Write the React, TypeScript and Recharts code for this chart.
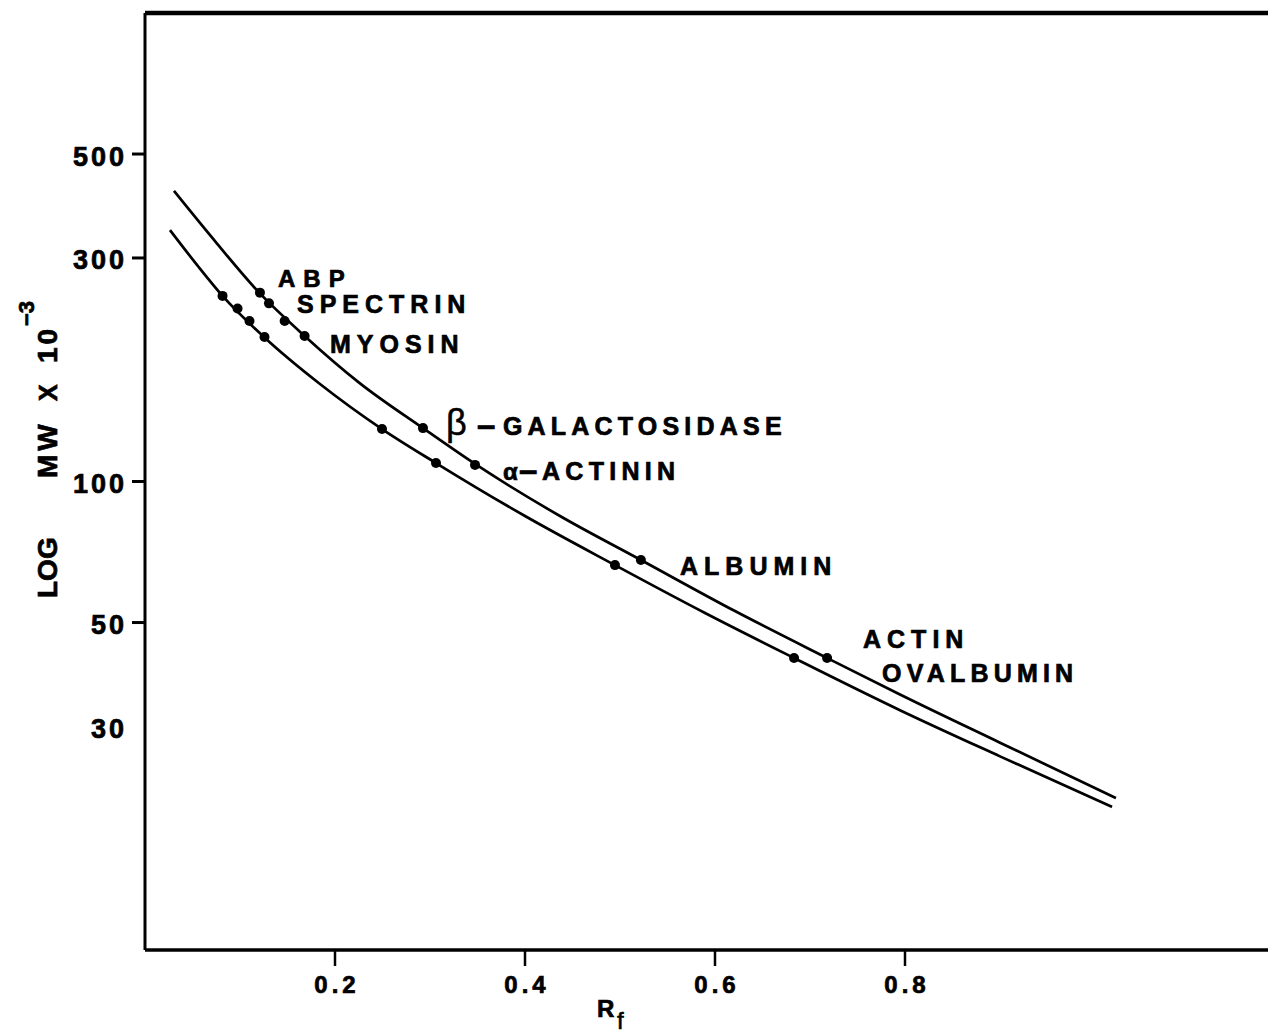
import React from 'react';
import {
  ComposedChart,
  Line,
  Scatter,
  XAxis,
  YAxis,
  ReferenceLine,
  ReferenceDot,
  Label,
} from 'recharts';

const FONT = '"Liberation Sans", Arial, Helvetica, sans-serif';

// ---- axis ticks ----
const rfTicks = [0.2, 0.4, 0.6, 0.8];
const mwTicks = [30, 50, 100, 300, 500];
const mwTicksWithoutMark = [30];

// ---- upper calibration curve ----
const upperCurveRf = [0.0305, 0.0758, 0.121, 0.168, 0.2263, 0.2926, 0.3474, 0.4368, 0.522, 0.621, 0.718, 0.7947, 0.9, 1.0221];
const upperCurveMw = [417, 322, 252, 204.5, 162, 130, 109, 84.4, 68, 52.9, 42, 35.1, 27.7, 21.1];

// ---- lower calibration curve ----
const lowerCurveRf = [0.0263, 0.0547, 0.0816, 0.1258, 0.1842, 0.2495, 0.3063, 0.4, 0.4947, 0.5895, 0.6832, 0.7947, 0.9, 1.0179];
const lowerCurveMw = [344, 290, 249, 203, 161.5, 129.4, 109.5, 84.4, 66.3, 52.4, 42, 32.5, 25.9, 20.2];

// ---- marker points ----
const upperDotsRf = [0.121, 0.1305, 0.147, 0.168, 0.2926, 0.3474, 0.522, 0.718];
const upperDotsMw = [253, 240, 220, 204.5, 130, 108.5, 68, 42];
const lowerDotsRf = [0.0816, 0.0974, 0.11, 0.1258, 0.2495, 0.3063, 0.4947, 0.6832];
const lowerDotsMw = [249, 234, 220, 203.5, 129.4, 109.5, 66.3, 42];

// ---- protein names and where their labels sit (data coordinates) ----
const proteinNames = ['ABP', 'SPECTRIN', 'MYOSIN', 'β-GALACTOSIDASE', 'α-ACTININ', 'ALBUMIN', 'ACTIN', 'OVALBUMIN'];
const labelRf = [0.14, 0.16, 0.1947, 0.3168, 0.3768, 0.5632, 0.7558, 0.7758];
const labelMw = [260.1, 228.9, 188.0, 125.7, 100.7, 63.2, 44.1, 37.3];

const zip = (xs: number[], ys: number[]) => xs.map((rf, i) => ({ rf, mw: ys[i] }));
const upperCurve = zip(upperCurveRf, upperCurveMw);
const lowerCurve = zip(lowerCurveRf, lowerCurveMw);
const upperDots = zip(upperDotsRf, upperDotsMw);
const lowerDots = zip(lowerDotsRf, lowerDotsMw);
const labels = proteinNames.map((name, i) => ({ name, rf: labelRf[i], mw: labelMw[i] }));

const textBase = {
  fontFamily: FONT,
  fontWeight: 'bold' as const,
  fill: '#000',
  stroke: '#000',
  strokeWidth: 0.7,
};

function YTick(props: any) {
  const { x, y, payload } = props;
  const v = payload.value;
  return (
    <g>
      {!mwTicksWithoutMark.includes(v) && (
        <line x1={x - 13} x2={x} y1={y} y2={y} stroke="#000" strokeWidth={3} />
      )}
      <text x={x - 18} y={y} dy={11.5} textAnchor="end" fontSize={27} letterSpacing={3} {...textBase}>
        {String(v)}
      </text>
    </g>
  );
}

function XTick(props: any) {
  const { x, y, payload } = props;
  return (
    <text x={x + 2} y={y} dy={27} textAnchor="middle" fontSize={24} letterSpacing={4} {...textBase}>
      {String(payload.value)}
    </text>
  );
}

function YLabel() {
  const bx = 57;
  const rot = (x: number, y: number) => `rotate(-90 ${x} ${y})`;
  return (
    <g>
      <text x={bx} y={598} transform={rot(bx, 598)} fontSize={28} {...textBase}>LOG</text>
      <text x={bx} y={478} transform={rot(bx, 478)} fontSize={28} letterSpacing={4} {...textBase}>MW</text>
      <text x={bx} y={401} transform={rot(bx, 401)} fontSize={25} {...textBase}>X</text>
      <text x={bx} y={363} transform={rot(bx, 363)} fontSize={28} letterSpacing={3} {...textBase}>10</text>
      <text x={34} y={326} transform={rot(34, 326)} fontSize={22} {...textBase}>−3</text>
    </g>
  );
}

function XLabel() {
  return (
    <g>
      <text x={597} y={1017} fontSize={24} {...textBase}>R</text>
      <text x={617} y={1029} fontSize={24} fontFamily={FONT} fontWeight="normal" fill="#000" stroke="#000" strokeWidth={0.6}>f</text>
    </g>
  );
}

function ProteinLabel({ cx, cy, name }: { cx: number; cy: number; name: string }) {
  if (name.startsWith('β')) {
    return (
      <g>
        <text x={cx} y={cy} fontSize={36} fontFamily={FONT} fontWeight="normal" fill="#000" stroke="#000" strokeWidth={0.5}>β</text>
        <text x={cx + 31} y={cy + 1} fontSize={33} {...textBase}>–</text>
        <text x={cx + 57} y={cy} fontSize={25} letterSpacing={5.2} {...textBase}>GALACTOSIDASE</text>
      </g>
    );
  }
  if (name.startsWith('α')) {
    return (
      <g>
        <text x={cx} y={cy} fontSize={24} {...textBase}>α</text>
        <text x={cx + 16} y={cy + 1} fontSize={33} {...textBase}>–</text>
        <text x={cx + 39} y={cy} fontSize={25} letterSpacing={5.3} {...textBase}>ACTININ</text>
      </g>
    );
  }
  const spacing = name === 'ABP' ? 8 : name === 'OVALBUMIN' ? 5.2 : 6;
  return (
    <text x={cx} y={cy} fontSize={name === 'ABP' ? 24 : 25} letterSpacing={spacing} {...textBase}>
      {name}
    </text>
  );
}

const dotShape = (p: any) => <circle cx={p.cx} cy={p.cy} r={5} fill="#000" />;

export default function App() {
  return (
    <div style={{ position: 'fixed', left: 0, top: 0, width: 1268, height: 1036, overflow: 'hidden', background: '#fff' }}>
      <ComposedChart
        width={1300}
        height={1036}
        margin={{ top: 13, right: 15, bottom: 26, left: 0 }}
        style={{ background: '#fff' }}
      >
        <XAxis
          dataKey="rf"
          type="number"
          domain={[0, 1.2]}
          allowDataOverflow
          ticks={rfTicks}
          height={60}
          tickSize={16}
          tickMargin={0}
          tickLine={{ stroke: '#000', strokeWidth: 2.5 }}
          axisLine={{ stroke: '#000', strokeWidth: 3.5 }}
          tick={<XTick />}
          interval={0}
        >
          <Label content={() => <XLabel />} />
        </XAxis>
        <YAxis
          type="number"
          scale="log"
          domain={[10, 1000]}
          allowDataOverflow
          ticks={mwTicks}
          width={145}
          tickSize={0}
          tickMargin={0}
          tickLine={false}
          axisLine={{ stroke: '#000', strokeWidth: 3 }}
          tick={<YTick />}
          interval={0}
        >
          <Label content={() => <YLabel />} />
        </YAxis>
        <ReferenceLine y={1000} stroke="#000" strokeWidth={4.5} />
        <ReferenceLine x={1.2} stroke="#000" strokeWidth={4} />
        <Line
          data={upperCurve}
          dataKey="mw"
          type="monotone"
          stroke="#000"
          strokeWidth={2.7}
          dot={false}
          activeDot={false}
          isAnimationActive={false}
        />
        <Line
          data={lowerCurve}
          dataKey="mw"
          type="monotone"
          stroke="#000"
          strokeWidth={2.7}
          dot={false}
          activeDot={false}
          isAnimationActive={false}
        />
        <Scatter data={upperDots} dataKey="mw" shape={dotShape} isAnimationActive={false} />
        <Scatter data={lowerDots} dataKey="mw" shape={dotShape} isAnimationActive={false} />
        {labels.map((l) => (
          <ReferenceDot
            key={l.name}
            x={l.rf}
            y={l.mw}
            r={0}
            ifOverflow="visible"
            shape={(p: any) => <ProteinLabel cx={p.cx} cy={p.cy} name={l.name} />}
          />
        ))}
      </ComposedChart>
    </div>
  );
}
